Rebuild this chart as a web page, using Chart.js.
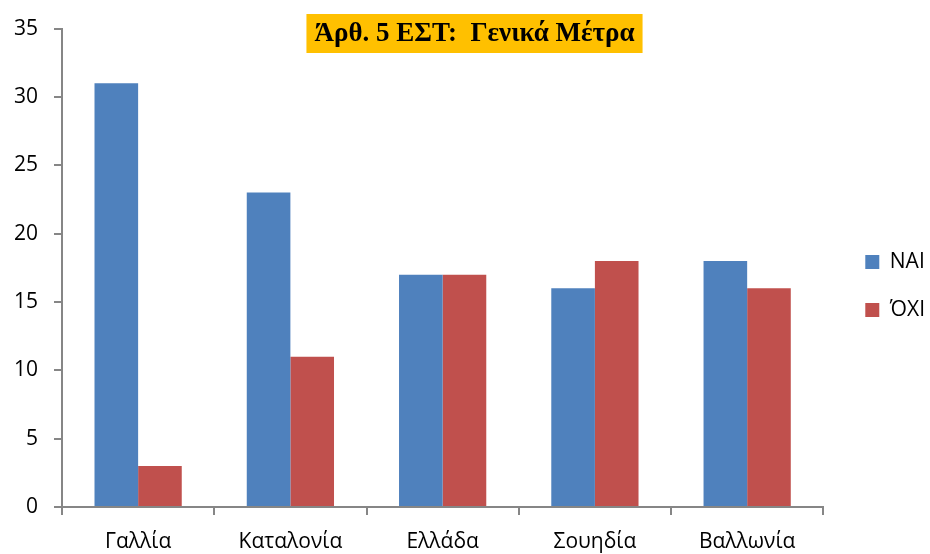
<!DOCTYPE html>
<html>
<head>
<meta charset="utf-8">
<script src="https://cdn.jsdelivr.net/npm/chart.js@4.4.1/dist/chart.umd.min.js"></script>
<style>
  body { margin: 0; background: #fff; }
  #wrap { width: 930px; height: 554px; position: relative; }
</style>
</head>
<body>
<div id="wrap"><canvas id="chart"></canvas></div>
<script>
const categories = ["Γαλλία", "Καταλονία", "Ελλάδα", "Σουηδία", "Βαλλωνία"];
const yesValues = [31, 23, 17, 16, 18];
const noValues = [3, 11, 17, 18, 16];
const chartTitle = "Άρθ. 5 ΕΣΤ:  Γενικά Μέτρα";

const axisColor = "#868686";
const labelFont = { family: "'Open Sans', sans-serif", size: 21 };

// title sits in a yellow box over the plot, like the excel original
const titleBox = {
  id: "titleBox",
  afterDraw(chart) {
    const ctx = chart.ctx;
    ctx.save();
    ctx.font = "bold 27px 'Liberation Serif', serif";
    const w = ctx.measureText(chartTitle).width + 16;
    const cx = 474.5;
    ctx.fillStyle = "#FFC000";
    ctx.fillRect(cx - w / 2, 14, w, 39);
    ctx.fillStyle = "#000";
    ctx.textAlign = "center";
    ctx.textBaseline = "middle";
    ctx.fillText(chartTitle, cx, 34);
    ctx.restore();
  },
};

// nudge the legend to where excel put it
const legendNudge = {
  id: "legendNudge",
  afterLayout(chart) {
    const lg = chart.legend;
    const dx = 15, dy = -5;
    lg.left += dx;
    lg.right += dx;
    lg.top += dy;
    lg.bottom += dy;
  },
};

new Chart(document.getElementById("chart"), {
  type: "bar",
  data: {
    labels: categories,
    datasets: [
      {
        label: "ΝΑΙ",
        data: yesValues,
        backgroundColor: "#4F81BD",
        barPercentage: 1,
        categoryPercentage: 0.573,
      },
      {
        label: "ΌΧΙ",
        data: noValues,
        backgroundColor: "#C0504D",
        barPercentage: 1,
        categoryPercentage: 0.573,
      },
    ],
  },
  options: {
    responsive: true,
    maintainAspectRatio: false,
    animation: false,
    layout: {
      padding: { top: 28, right: 10 },
    },
    scales: {
      x: {
        grid: {
          offset: true,
          drawOnChartArea: false,
          tickLength: 8,
          color: axisColor,
          lineWidth: 2,
        },
        border: { color: axisColor, width: 2 },
        ticks: { font: labelFont, color: "#000", padding: 14 },
        afterFit: function (scale) {
          scale.height = 47;
        },
      },
      y: {
        min: 0,
        max: 35,
        ticks: { stepSize: 5, font: labelFont, color: "#000", padding: 16 },
        grid: {
          drawOnChartArea: false,
          tickLength: 8,
          color: axisColor,
          lineWidth: 2,
        },
        border: { color: axisColor, width: 2 },
        afterFit: function (scale) {
          scale.width = 62;
        },
      },
    },
    plugins: {
      legend: {
        position: "right",
        labels: {
          boxWidth: 14,
          boxHeight: 14,
          padding: 27,
          font: labelFont,
          color: "#000",
        },
      },
      tooltip: { enabled: false },
    },
  },
  plugins: [titleBox, legendNudge],
});
</script>
</body>
</html>
